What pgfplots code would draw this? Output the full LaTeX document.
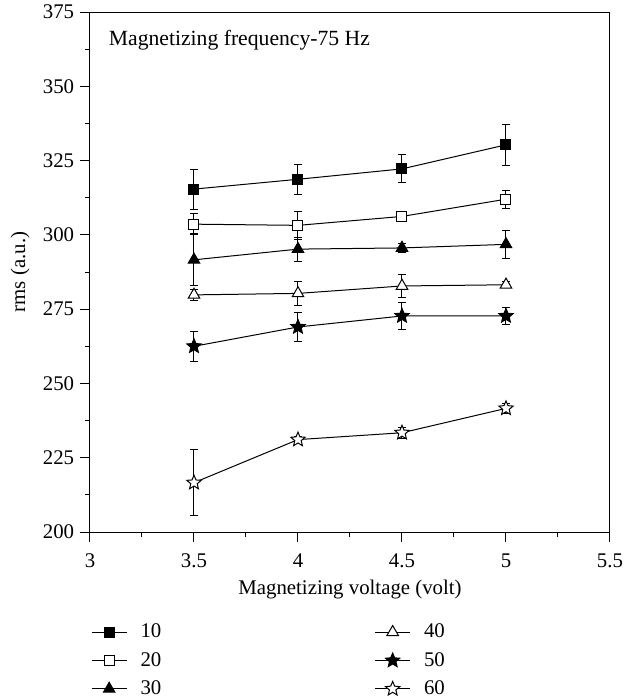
\documentclass[border=0pt]{standalone}
\usepackage{fontspec}
\setmainfont{Liberation Serif}
\usepackage{pgfplots}
\pgfplotsset{compat=1.18}
\pgfdeclareplotmark{pstar}{%
  \pgfpathmoveto{\pgfpointpolar{90}{\pgfplotmarksize}}%
  \pgfpathlineto{\pgfpointpolar{126}{0.45\pgfplotmarksize}}%
  \pgfpathlineto{\pgfpointpolar{162}{\pgfplotmarksize}}%
  \pgfpathlineto{\pgfpointpolar{198}{0.45\pgfplotmarksize}}%
  \pgfpathlineto{\pgfpointpolar{234}{\pgfplotmarksize}}%
  \pgfpathlineto{\pgfpointpolar{270}{0.45\pgfplotmarksize}}%
  \pgfpathlineto{\pgfpointpolar{306}{\pgfplotmarksize}}%
  \pgfpathlineto{\pgfpointpolar{342}{0.45\pgfplotmarksize}}%
  \pgfpathlineto{\pgfpointpolar{18}{\pgfplotmarksize}}%
  \pgfpathlineto{\pgfpointpolar{54}{0.45\pgfplotmarksize}}%
  \pgfpathclose
  \pgfusepathqfillstroke}
\begin{document}
\begin{tikzpicture}[font=\fontsize{12.5}{14.5}\selectfont]
\useasboundingbox (-54pt,-99.6pt) rectangle (320.4pt,319.2pt);
\begin{axis}[
  at={(0,0)}, anchor=south west,
  scale only axis, width=312pt, height=312pt,
  xmin=3, xmax=5.5, ymin=200, ymax=375,
  xtick={3,3.5,4,4.5,5,5.5},
  xticklabels={3,3.5,4,4.5,5,5.5},
  ytick={200,225,250,275,300,325,350,375},
  minor x tick num=1, minor y tick num=1,
  tick align=outside,
  major tick length=6pt, minor tick length=3pt,
  xtick pos=bottom, ytick pos=left,
  axis line style={line width=0.6pt},
  every tick/.style={line width=0.6pt, black},
  xticklabel style={yshift=-3.5pt},
  /pgf/number format/assume math mode=true,
  xlabel={Magnetizing voltage (volt)},
  ylabel={rms (a.u.)},
  every axis x label/.style={at={(rel axis cs:0.5,0)}, anchor=center, yshift=-34.8pt},
  every axis y label/.style={at={(rel axis cs:0,0.5)}, anchor=center, rotate=90, yshift=42pt},
  cycle list={{black,solid}},
  error bars/error bar style={line width=0.6pt, black, solid},
  error bars/error mark options={rotate=90, mark size=2.4pt, line width=0.6pt, black},
  legend style={at={(-0.008,-0.1635)}, anchor=north west, draw=none, fill=none,
    row sep=3.2pt,
    /tikz/every odd column/.append style={column sep=6pt},
    /tikz/every even column/.append style={column sep=126pt}},
  legend cell align=left,
  legend columns=3, transpose legend,
  legend image code/.code={\draw[mark repeat=2,mark phase=2] plot coordinates {(0pt,0pt)(10.5pt,0pt)(21pt,0pt)};},
]
\addplot[black, line width=0.6pt, mark=square*, mark size=3pt, mark options={fill=black, solid},
  error bars/.cd, y dir=both, y explicit]
  coordinates {(3.5,315.4) +- (0,6.7) (4,318.7) +- (0,5) (4.5,322.2) +- (0,4.7) (5,330.3) +- (0,7)};
\addlegendentry{10}
\addplot[black, line width=0.6pt, mark=square*, mark size=3pt, mark options={fill=white, solid},
  error bars/.cd, y dir=both, y explicit]
  coordinates {(3.5,303.6) +- (0,3.5) (4,303.2) +- (0,4.7) (4.5,306.2) +- (0,1) (5,312.0) +- (0,3)};
\addlegendentry{20}
\addplot[black, line width=0.6pt, mark=triangle*, mark size=4pt, mark options={fill=black, solid},
  error bars/.cd, y dir=both, y explicit]
  coordinates {(3.5,291.6) +- (0,8.7) (4,295.2) +- (0,4) (4.5,295.6) +- (0,1.5) (5,296.8) +- (0,4.8)};
\addlegendentry{30}
\addplot[black, line width=0.6pt, mark=triangle*, mark size=4pt, mark options={fill=white, solid},
  error bars/.cd, y dir=both, y explicit]
  coordinates {(3.5,279.8) +- (0,1.9) (4,280.3) +- (0,4) (4.5,282.8) +- (0,3.9) (5,283.2) +- (0,1)};
\addlegendentry{40}
\addplot[black, line width=0.6pt, mark=pstar, mark size=4.5pt, mark options={fill=black, solid},
  error bars/.cd, y dir=both, y explicit]
  coordinates {(3.5,262.5) +- (0,5) (4,269.0) +- (0,5) (4.5,272.7) +- (0,4.7) (5,272.7) +- (0,3)};
\addlegendentry{50}
\addplot[black, line width=0.6pt, mark=pstar, mark size=4.5pt, mark options={fill=white, solid},
  error bars/.cd, y dir=both, y explicit]
  coordinates {(3.5,216.6) +- (0,11.2) (4,231.1) +- (0,1) (4.5,233.4) +- (0,1.8) (5,241.6) +- (0,1.8)};
\addlegendentry{60}
\node[anchor=west, font=\fontsize{13}{15}\selectfont] at (rel axis cs:0.025,0.945) {Magnetizing frequency-75 Hz};
\end{axis}
\end{tikzpicture}
\end{document}
